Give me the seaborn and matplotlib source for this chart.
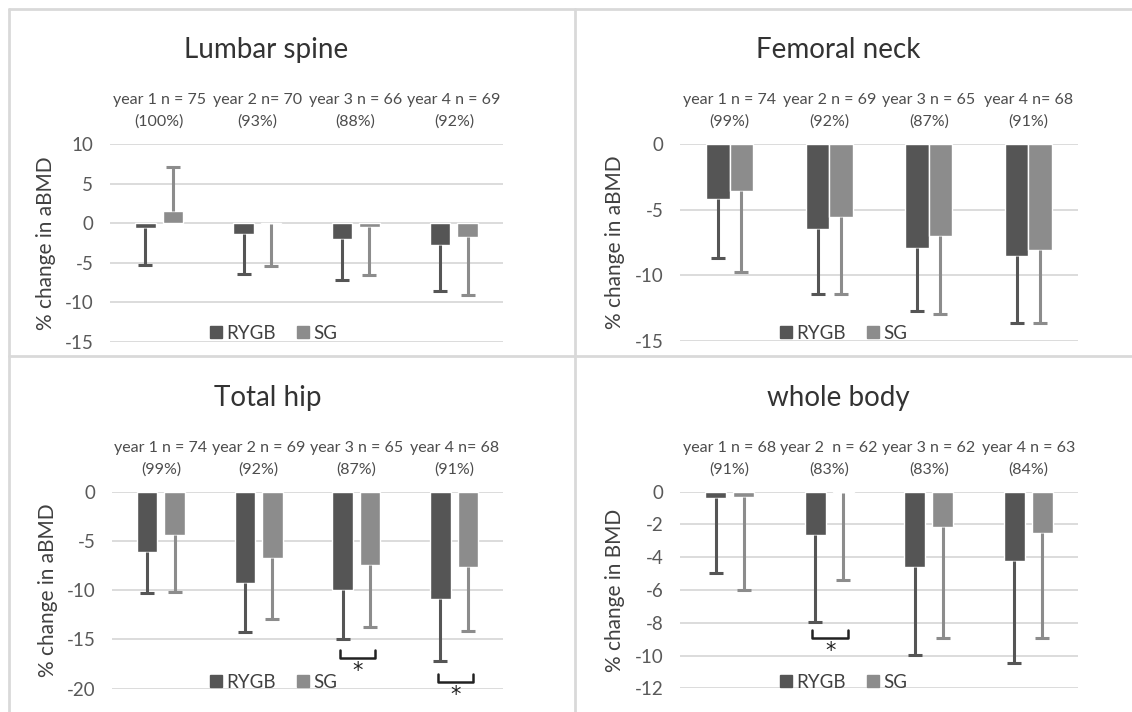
import pandas as pd
import matplotlib.pyplot as plt
import seaborn as sns
from matplotlib.lines import Line2D

# data (mean % change, one-sided SD bar)
years = ['year 1', 'year 2', 'year 3', 'year 4']
groups = ['RYGB', 'SG']

lumbar_labels = ['year 1 n = 75\n(100%)', 'year 2 n= 70\n(93%)', 'year 3 n = 66\n(88%)', 'year 4 n = 69\n(92%)']
lumbar_rygb = [-0.6, -1.4, -2.0, -2.75]
lumbar_rygb_sd = [4.7, 5.0, 5.2, 5.85]
lumbar_sg = [1.5, -0.1, -0.45, -1.8]
lumbar_sg_sd = [5.6, 5.3, 6.15, 7.35]

femoral_labels = ['year 1 n = 74\n(99%)', 'year 2 n = 69\n(92%)', 'year 3 n = 65\n(87%)', 'year 4 n= 68\n(91%)']
femoral_rygb = [-4.17, -6.49, -7.94, -8.55]
femoral_rygb_sd = [4.56, 4.96, 4.78, 5.09]
femoral_sg = [-3.56, -5.55, -7.0, -8.12]
femoral_sg_sd = [6.19, 5.9, 6.0, 5.52]

hip_labels = ['year 1 n = 74\n(99%)', 'year 2 n = 69\n(92%)', 'year 3 n = 65\n(87%)', 'year 4 n= 68\n(91%)']
hip_rygb = [-6.09, -9.27, -10.0, -10.86]
hip_rygb_sd = [4.2, 5.01, 4.96, 6.34]
hip_sg = [-4.43, -6.73, -7.45, -7.65]
hip_sg_sd = [5.76, 6.2, 6.25, 6.5]
hip_sig = [(2, -16.9), (3, -19.3)]  # (year index, bracket level)

wb_labels = ['year 1 n = 68\n(91%)', 'year 2  n = 62\n(83%)', 'year 3 n = 62\n(83%)', 'year 4 n = 63\n(84%)']
wb_rygb = [-0.4, -2.67, -4.6, -4.2]
wb_rygb_sd = [4.57, 5.31, 5.38, 6.27]
wb_sg = [-0.33, -0.05, -2.18, -2.55]
wb_sg_sd = [5.66, 5.31, 6.72, 6.41]
wb_sig = [(1, -8.92)]

colors = ['#555555', '#8c8c8c']
W, H = 1132, 712

sns.set_theme(style="white")
plt.rcParams['font.family'] = ['Lato', 'DejaVu Sans']
plt.rcParams['axes.unicode_minus'] = False

fig = plt.figure(figsize=(W / 100, H / 100), dpi=100)


def px_rect(l, t, r, b):
    return [l / W, 1 - b / H, (r - l) / W, (b - t) / H]


def draw_panel(rect, title, title_xy, labels, rygb, rygb_sd, sg, sg_sd,
               ylim, ystep, ylabel, legend_xy, width, gap, sig=()):
    ax = fig.add_axes(px_rect(*rect))
    df = pd.DataFrame({
        'year': years * 2,
        'group': ['RYGB'] * 4 + ['SG'] * 4,
        'change': rygb + sg,
        'sd': rygb_sd + sg_sd,
    })
    sns.barplot(data=df, x='year', y='change', hue='group', hue_order=groups,
                palette=colors, errorbar=None, width=width, gap=gap,
                saturation=1, legend=False, ax=ax, zorder=2)

    # one-sided error bars, pointing away from zero
    centers = {}
    for gi, (cont, g) in enumerate(zip(ax.containers, groups)):
        sub = df[df['group'] == g].reset_index(drop=True)
        cs = []
        for bar, m, s in zip(cont, sub['change'], sub['sd']):
            x = bar.get_x() + bar.get_width() / 2
            end = m - s if m < 0 else m + s
            ax.plot([x, x], [m, end], color=colors[gi], lw=2.2, zorder=3,
                    solid_capstyle='butt')
            ax.plot([x], [end], marker='_', ms=10, mew=2.2, color=colors[gi], zorder=3)
            cs.append(x)
        centers[g] = cs

    # significance brackets
    unit = (ylim[1] - ylim[0]) / (rect[3] - rect[1])  # data units per pixel
    for yi, lev in sig:
        x0 = centers['RYGB'][yi] - 0.03
        x1 = centers['SG'][yi] + 0.05
        tip = lev + 8 * unit
        ax.plot([x0, x0, x1, x1], [tip, lev, lev, tip],
                color='#222222', lw=1.8, clip_on=False, zorder=4)
        ax.text((x0 + x1) / 2, lev - 3 * unit, '*', ha='center', va='top',
                fontsize=15, family='DejaVu Sans', color='#222222', clip_on=False)

    ax.set_ylim(*ylim)
    ax.set_xlim(-0.5, 3.5)
    ticks = list(range(int(ylim[0]), int(ylim[1]) + 1, ystep))
    ax.set_yticks(ticks)
    ax.yaxis.grid(True, color='#d9d9d9', lw=1.3)
    ax.set_axisbelow(True)
    for sp in ax.spines.values():
        sp.set_visible(False)
    ax.xaxis.tick_top()
    ax.set_xticks(range(4))
    ax.set_xticklabels(labels, fontsize=11.5, color='#4d4d4d', linespacing=1.65)
    ax.tick_params(axis='x', length=0, pad=11)
    ax.tick_params(axis='y', length=0, pad=12, labelsize=13.5, labelcolor='#595959')
    ax.set_xlabel('')
    ax.set_ylabel(ylabel, fontsize=15, color='#404040')
    ax.yaxis.set_label_coords(-0.138, 0.5)

    fig.text(title_xy[0] / W, 1 - title_xy[1] / H, title, ha='center', va='center',
             fontsize=20, color='#333333')

    handles = [Line2D([], [], marker='s', ls='none', ms=8.5, color=c) for c in colors]
    ax.legend(handles, groups, loc='center', ncol=2, frameon=False,
              bbox_to_anchor=(legend_xy[0] / W, 1 - legend_xy[1] / H),
              bbox_transform=fig.transFigure, fontsize=13.5, labelcolor='#404040',
              handletextpad=0.1, columnspacing=1.0, handlelength=0.9)
    return ax


draw_panel((110, 144, 503, 341.7), 'Lumbar spine', (266, 50), lumbar_labels,
           lumbar_rygb, lumbar_rygb_sd, lumbar_sg, lumbar_sg_sd,
           (-15, 10), 5, '% change in aBMD', (272, 333), 0.56, 0.25)
draw_panel((680, 144, 1078, 340.7), 'Femoral neck', (838, 50), femoral_labels,
           femoral_rygb, femoral_rygb_sd, femoral_sg, femoral_sg_sd,
           (-15, 0), 5, '% change in aBMD', (842, 333), 0.47, 0.0)
draw_panel((112, 491.7, 503, 688.7), 'Total hip', (268, 398), hip_labels,
           hip_rygb, hip_rygb_sd, hip_sg, hip_sg_sd,
           (-20, 0), 5, '% change in aBMD', (272, 682), 0.56, 0.25, hip_sig)
draw_panel((680, 491.7, 1078, 688.3), 'whole body', (838, 398), wb_labels,
           wb_rygb, wb_rygb_sd, wb_sg, wb_sg_sd,
           (-12, 0), 2, '% change in BMD', (842, 682), 0.56, 0.25, wb_sig)

# chart-area borders
for (x0, y0, x1, y1) in [(9, 9, 9, H), (9, 9, W, 9), (575, 9, 575, H), (9, 356, W, 356)]:
    fig.add_artist(Line2D([x0 / W, x1 / W], [1 - y0 / H, 1 - y1 / H],
                          color='#d9d9d9', lw=2, transform=fig.transFigure))

fig.savefig('out.png', dpi=100)
